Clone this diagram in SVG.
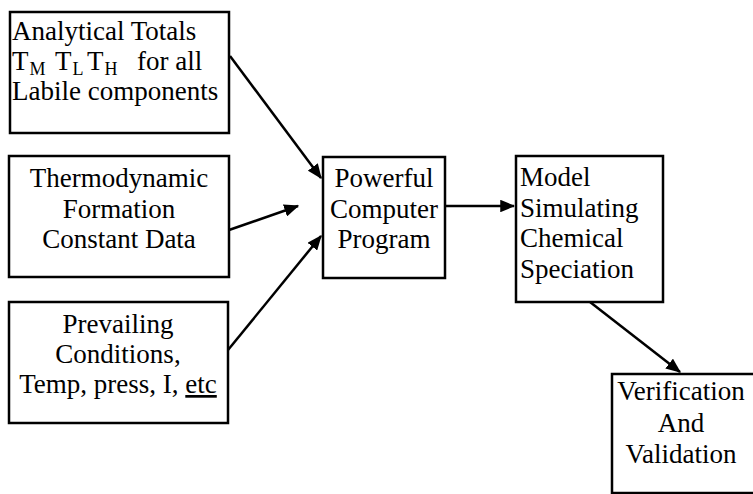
<svg xmlns="http://www.w3.org/2000/svg" width="753" height="494" viewBox="0 0 753 494">
<style>
.box{fill:#fff;stroke:#000;stroke-width:2.5}
text{font-family:"Liberation Serif","Times New Roman",serif;font-size:27px;fill:#000}
.c{text-anchor:middle}
.sub{font-size:18px}
.ln{stroke:#000;stroke-width:2.5;fill:none;marker-end:url(#ah)}
</style>
<defs>
<marker id="ah" markerWidth="6" markerHeight="5" refX="5.5" refY="2.5" orient="auto" markerUnits="strokeWidth">
<path d="M0,0 L6,2.5 L0,5 Z" fill="#000"/>
</marker>
</defs>
<g id="analytical">
<rect class="box" x="10" y="12" width="219" height="121"/>
<text x="12" y="40">Analytical Totals</text>
<text y="70"><tspan x="12">T</tspan><tspan class="sub" dx="1" dy="5">M</tspan><tspan x="55" dy="-5">T</tspan><tspan class="sub" dx="1" dy="5">L</tspan><tspan x="87" dy="-5">T</tspan><tspan class="sub" dx="1" dy="5">H</tspan><tspan x="137" dy="-5">for all</tspan></text>
<text x="12" y="100">Labile components</text>
</g>
<g id="thermo">
<rect class="box" x="9" y="156" width="220" height="121"/>
<text class="c" x="119" y="187">Thermodynamic</text>
<text class="c" x="119" y="218">Formation</text>
<text class="c" x="119" y="248">Constant Data</text>
</g>
<g id="prevailing">
<rect class="box" x="9" y="302" width="219" height="121"/>
<text class="c" x="118" y="333">Prevailing</text>
<text class="c" x="118" y="363">Conditions,</text>
<text class="c" x="118" y="393">Temp, press, I, <tspan text-decoration="underline">etc</tspan></text>
</g>
<g id="program">
<rect class="box" x="323" y="157" width="122" height="121"/>
<text class="c" x="384" y="187">Powerful</text>
<text class="c" x="384" y="218">Computer</text>
<text class="c" x="384" y="248">Program</text>
</g>
<g id="model">
<rect class="box" x="516" y="156" width="147" height="146"/>
<text x="520" y="186">Model</text>
<text x="520" y="217">Simulating</text>
<text x="520" y="247">Chemical</text>
<text x="520" y="278">Speciation</text>
</g>
<g id="verification">
<rect class="box" x="612" y="374" width="160" height="119"/>
<text class="c" x="681" y="400">Verification</text>
<text class="c" x="681" y="432">And</text>
<text class="c" x="681" y="463">Validation</text>
</g>
<g id="connectors">
<line class="ln" x1="230" y1="56" x2="321" y2="178"/>
<line class="ln" x1="229" y1="230" x2="298" y2="206"/>
<line class="ln" x1="228" y1="350" x2="321" y2="236"/>
<line class="ln" x1="445" y1="206" x2="514" y2="206"/>
<line class="ln" x1="590" y1="302" x2="680" y2="372"/>
</g>
</svg>
